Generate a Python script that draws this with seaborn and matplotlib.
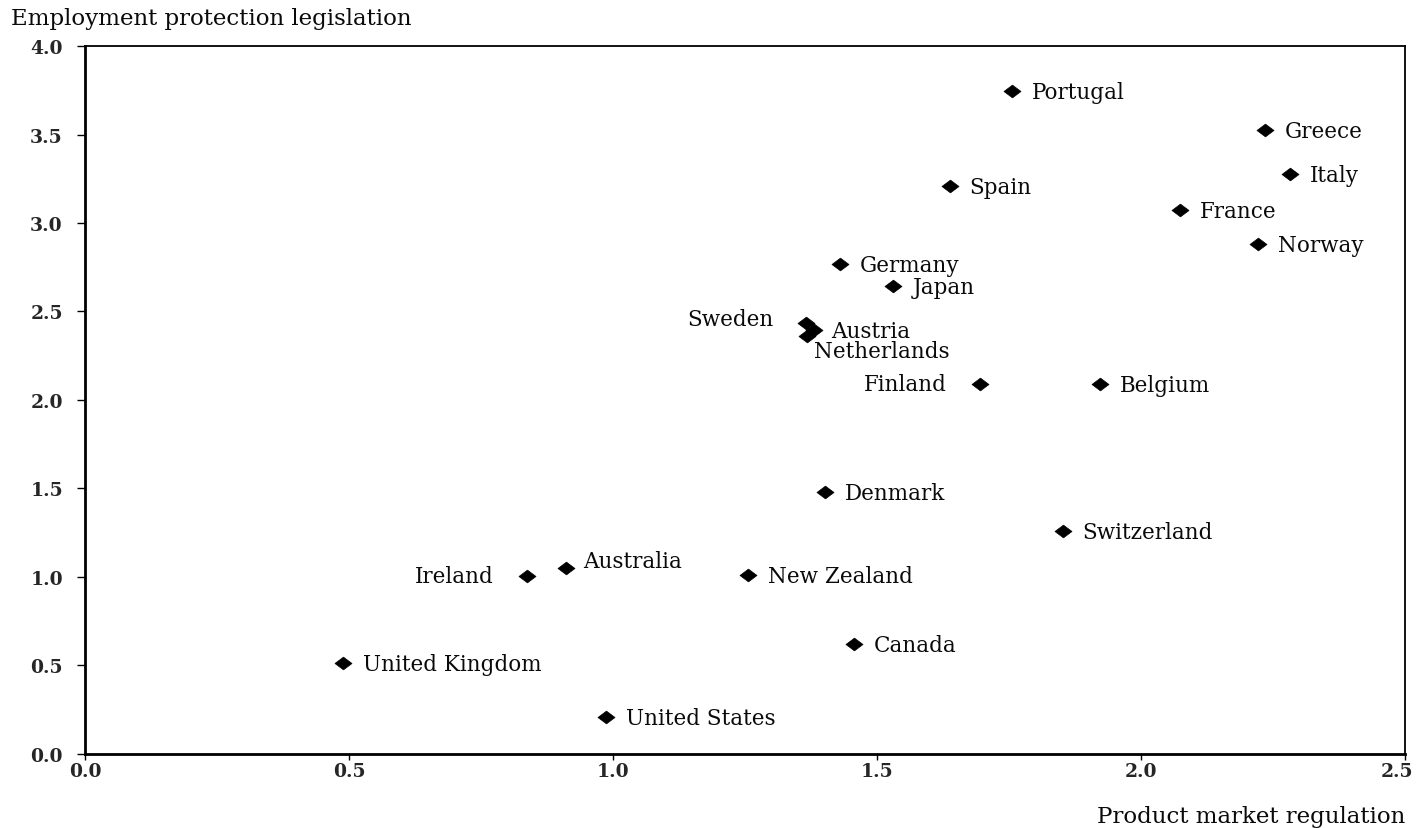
import matplotlib
matplotlib.use("Agg")
import matplotlib.pyplot as plt
import matplotlib.transforms as mtransforms
import seaborn as sns
import pandas as pd
from matplotlib.path import Path

countries = ["Portugal", "Greece", "Italy", "Spain", "France", "Norway", "Germany",
             "Japan", "Sweden", "Austria", "Netherlands", "Finland", "Belgium",
             "Denmark", "Switzerland", "Ireland", "Australia", "New Zealand",
             "Canada", "United Kingdom", "United States"]
pmr = [1.756, 2.235, 2.282, 1.638, 2.074, 2.222, 1.430,
       1.530, 1.366, 1.381, 1.367, 1.695, 1.922,
       1.402, 1.852, 0.837, 0.911, 1.256,
       1.456, 0.489, 0.987]
epl = [3.746, 3.525, 3.277, 3.209, 3.073, 2.881, 2.768,
       2.644, 2.435, 2.395, 2.362, 2.090, 2.090,
       1.480, 1.260, 1.006, 1.051, 1.011,
       0.621, 0.514, 0.209]

xticks = [0.0, 0.5, 1.0, 1.5, 2.0, 2.5]
yticks = [0.0, 0.5, 1.0, 1.5, 2.0, 2.5, 3.0, 3.5, 4.0]

df = pd.DataFrame({"country": countries, "pmr": pmr, "epl": epl})

sns.set_theme(style="white")
plt.rcParams["font.family"] = ["DejaVu Serif"]

fig = plt.figure(figsize=(14.18, 8.29), dpi=100)
ax = fig.add_axes([0.060, 0.0893, 0.931, 0.854])

diamond = Path([(-1, 0), (0, 0.75), (1, 0), (0, -0.75), (-1, 0)],
               [Path.MOVETO, Path.LINETO, Path.LINETO, Path.LINETO, Path.CLOSEPOLY])
sns.scatterplot(data=df, x="pmr", y="epl", ax=ax, marker=diamond, s=150,
                color="black", edgecolor="black", linewidth=0.5, legend=False)

# label placement (style): offsets in points, horizontal alignment
label_style = {
    "Sweden": (-24, 3, "right"),
    "Austria": (12, -1, "left"),
    "Netherlands": (5, -11, "left"),
    "Finland": (-24, 0, "right"),
    "Ireland": (-24, 0, "right"),
    "Australia": (12, 5, "left"),
}
for c, x, y in zip(countries, pmr, epl):
    dx, dy, ha = label_style.get(c, (14, -1, "left"))
    ax.annotate(c, (x, y), xytext=(dx, dy), textcoords="offset points",
                ha=ha, va="center", fontsize=15.5, color="#0a0a0a")

ax.set_xlim(0, 2.5)
ax.set_ylim(0, 4.0)
ax.set_xticks(xticks)
ax.set_yticks(yticks)
ax.set_xticklabels([f"{t:.1f}" for t in xticks], fontsize=13.5, fontweight="bold")
ax.set_yticklabels([f"{t:.1f}" for t in yticks], fontsize=13.5, fontweight="bold")
ax.tick_params(axis="y", direction="out", length=6, width=1, color="black", pad=10, left=True)
ax.tick_params(axis="x", direction="out", length=4, width=1, color="black", pad=2, bottom=True)
ax.set_xlabel("")
ax.set_ylabel("")

# nudge the last x tick label left so it stays inside the figure
last = ax.get_xticklabels()[-1]
last.set_transform(last.get_transform() +
                   mtransforms.ScaledTranslation(-6 / 72, 0, fig.dpi_scale_trans))

for side in ["left", "bottom"]:
    ax.spines[side].set_linewidth(2.0)
    ax.spines[side].set_color("black")
for side in ["top", "right"]:
    ax.spines[side].set_linewidth(1.3)
    ax.spines[side].set_color("black")

fig.text(0.008, 0.977, "Employment protection legislation", fontsize=16.5,
         ha="left", va="center", color="#0a0a0a")
fig.text(0.991, 0.014, "Product market regulation", fontsize=16.5,
         ha="right", va="center", color="#0a0a0a")

fig.savefig("out.png", dpi=100, facecolor="white")
